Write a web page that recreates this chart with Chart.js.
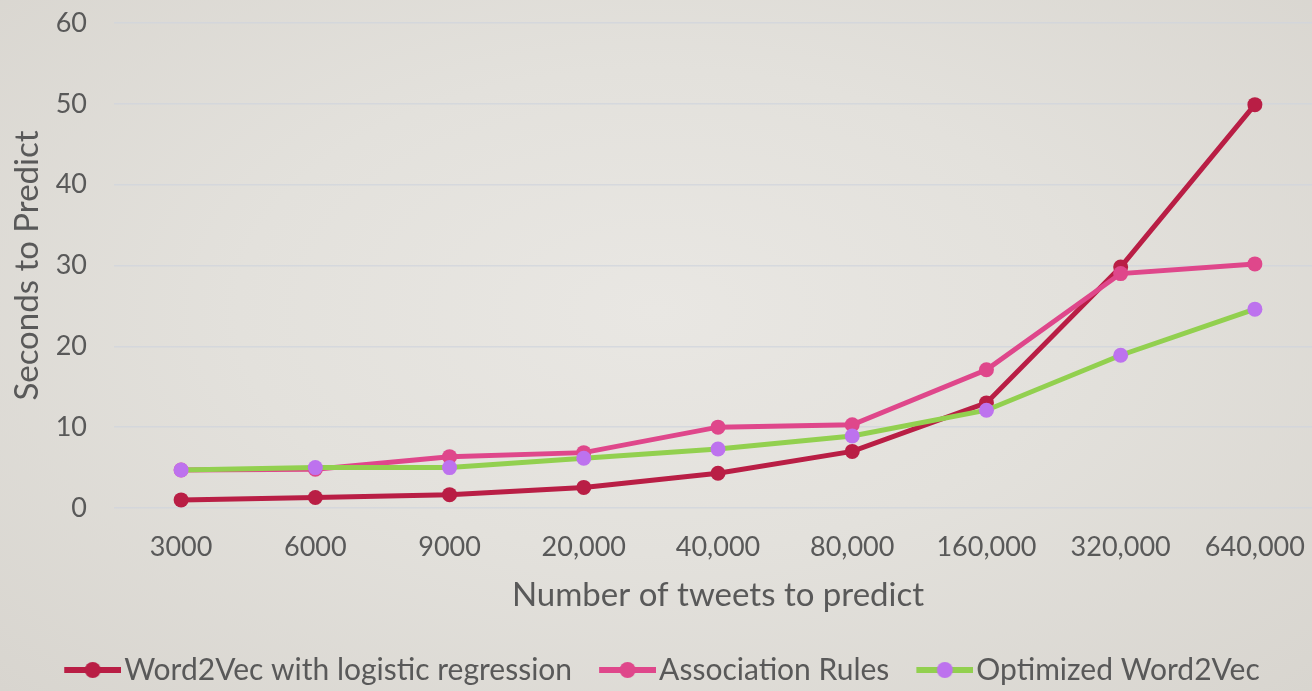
<!DOCTYPE html>
<html>
<head>
<meta charset="utf-8">
<script src="https://cdn.jsdelivr.net/npm/chart.js@4.4.1/dist/chart.umd.min.js"></script>
<style>
  html, body { margin: 0; padding: 0; overflow: hidden; }
  body {
    width: 1312px; height: 691px;
    background: radial-gradient(ellipse at 50% 45%, #e9e7e3 0%, #e3e1dc 45%, #d8d5cf 100%);
  }
  canvas { display: block; }
</style>
</head>
<body>
<canvas id="c" width="1331" height="691" style="width:1331px;height:691px"></canvas>
<script>
// Tweet batch sizes on the x axis
const categories = ['3000', '6000', '9000', '20,000', '40,000', '80,000', '160,000', '320,000', '640,000'];

// Seconds needed to predict each batch
const word2vecLR   = [1.0, 1.3, 1.65, 2.55, 4.3, 7.0, 13.0, 29.8, 49.9];
const assocRules   = [4.7, 4.8, 6.35, 6.85, 10.0, 10.3, 17.1, 29.0, 30.2];
const optimizedW2V = [4.7, 5.0, 5.0, 6.15, 7.3, 8.9, 12.1, 18.9, 24.6];

const seriesNames = ['Word2Vec with logistic regression', 'Association Rules', 'Optimized Word2Vec'];
const yTicks = [0, 10, 20, 30, 40, 50, 60];

const textColor = '#595959';
const fontFamily = 'Lato, "Open Sans", sans-serif';

// Legend swatch: a short thick line with a dot in the middle,
// drawn at the right end of the image so it sits close to its label
function legendSwatch(lineColor, dotColor) {
  const imgW = 86, len = 57, h = 20;
  const lead = imgW - len;
  const c = document.createElement('canvas');
  c.width = imgW; c.height = h;
  const g = c.getContext('2d');
  g.strokeStyle = lineColor;
  g.lineWidth = 6;
  g.lineCap = 'butt';
  g.beginPath();
  g.moveTo(lead, h / 2);
  g.lineTo(lead + len, h / 2);
  g.stroke();
  g.fillStyle = dotColor;
  g.beginPath();
  g.arc(lead + len / 2, h / 2, 8, 0, Math.PI * 2);
  g.fill();
  return c;
}

const datasets = [
  {
    label: seriesNames[0], data: word2vecLR,
    borderColor: '#B91E45', backgroundColor: '#B91E45',
    pointBackgroundColor: '#B91E45',
    swatch: legendSwatch('#B91E45', '#B91E45'), order: 2
  },
  {
    label: seriesNames[1], data: assocRules,
    borderColor: '#DF478B', backgroundColor: '#DF478B',
    pointBackgroundColor: '#DF478B',
    swatch: legendSwatch('#DF478B', '#DF478B'), order: 1
  },
  {
    label: seriesNames[2], data: optimizedW2V,
    borderColor: '#92D04F', backgroundColor: '#BD72EE',
    pointBackgroundColor: '#BD72EE',
    swatch: legendSwatch('#92D04F', '#BD72EE'), order: 0
  }
];
datasets.forEach(d => {
  d.borderWidth = 5;
  d.pointRadius = 7.5;
  d.pointHoverRadius = 7.5;
  d.pointBorderWidth = 0;
  d.tension = 0;
});

new Chart(document.getElementById('c'), {
  type: 'line',
  data: { labels: categories, datasets },
  options: {
    responsive: false,
    animation: false,
    layout: { padding: { left: -15, right: 9, top: 23, bottom: -4 } },
    plugins: {
      tooltip: { enabled: false },
      legend: {
        position: 'bottom',
        labels: {
          usePointStyle: true,
          pointStyleWidth: 62,
          padding: 10,
          color: textColor,
          font: { family: fontFamily, size: 30 },
          generateLabels: (chart) => chart.data.datasets.map((d, i) => ({
            text: d.label,
            pointStyle: d.swatch,
            fillStyle: d.borderColor,
            strokeStyle: d.borderColor,
            lineWidth: 0,
            fontColor: textColor,
            hidden: false,
            datasetIndex: i
          }))
        }
      }
    },
    scales: {
      x: {
        offset: true,
        grid: { display: false, drawTicks: false, offset: true },
        border: { display: false },
        ticks: { color: textColor, font: { family: fontFamily, size: 27 }, padding: 23, maxRotation: 0, autoSkip: false },
        title: {
          display: true, text: 'Number of tweets to predict', color: textColor,
          font: { family: fontFamily, size: 33 }, padding: { top: 0, bottom: 30 }
        },
        afterFit: (s) => { s.height = 137; s.paddingLeft = 0; s.paddingRight = 0; }
      },
      y: {
        min: 0, max: 60,
        afterBuildTicks: (s) => { s.ticks = yTicks.map(v => ({ value: v })); },
        grid: { color: 'rgba(208,212,220,0.75)', lineWidth: 1.5, drawTicks: false },
        border: { display: false },
        ticks: { color: textColor, font: { family: fontFamily, size: 27 }, padding: 27 },
        title: {
          display: true, text: 'Seconds to Predict', color: textColor,
          font: { family: fontFamily, size: 33 }, padding: { top: 23, bottom: 0 }
        },
        afterFit: (s) => { s.width = 129; s.paddingTop = 0; s.paddingBottom = 0; }
      }
    }
  }
});
</script>
</body>
</html>
